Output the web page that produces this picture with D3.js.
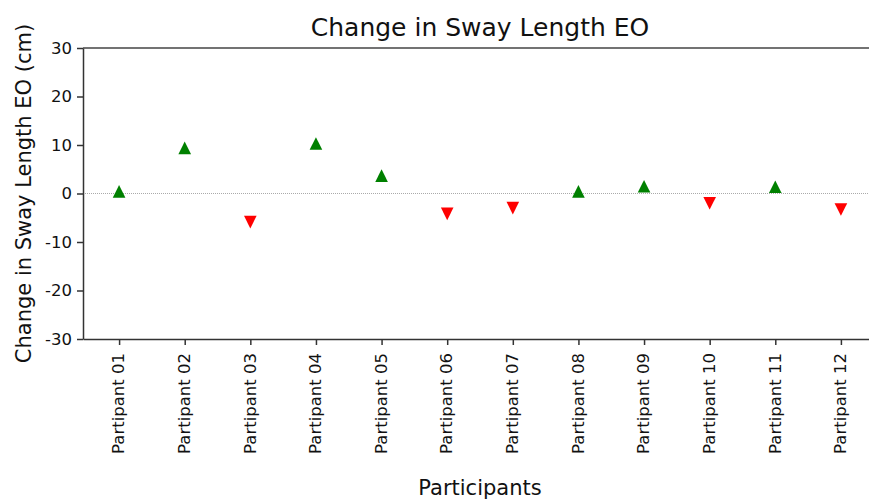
<!DOCTYPE html>
<html>
<head>
<meta charset="utf-8">
<script src="https://cdn.jsdelivr.net/npm/d3@7"></script>
<style>
body { margin: 0; background: #fff; }
text { font-family: "DejaVu Sans", sans-serif; fill: #111; }
</style>
</head>
<body>
<div id="chart"></div>
<script>
var participants = ["Partipant 01", "Partipant 02", "Partipant 03", "Partipant 04",
	"Partipant 05", "Partipant 06", "Partipant 07", "Partipant 08",
	"Partipant 09", "Partipant 10", "Partipant 11", "Partipant 12"];
var change = [0.45, 9.4, -5.9, 10.3, 3.7, -4.2, -3.0, 0.45, 1.5, -2.0, 1.4, -3.3];
var yTicks = [-30, -20, -10, 0, 10, 20, 30];

var width = 869, height = 500;
var plotLeft = 83, plotRight = 877, plotTop = 48, plotBottom = 339;

var svg = d3.select("#chart").append("svg")
	.attr("width", width)
	.attr("height", height);

var x = d3.scalePoint()
	.domain(participants)
	.range([plotLeft, plotRight])
	.padding(0.55);

var y = d3.scaleLinear()
	.domain([-30, 30])
	.range([plotBottom, plotTop]);

// zero line
svg.append("line")
	.attr("x1", plotLeft).attr("x2", plotRight)
	.attr("y1", y(0)).attr("y2", y(0))
	.style("stroke", "#aaa")
	.style("stroke-width", 1)
	.style("stroke-dasharray", "1,1");

// top border
svg.append("line")
	.attr("x1", plotLeft).attr("x2", plotRight)
	.attr("y1", plotTop).attr("y2", plotTop)
	.style("stroke", "#444")
	.style("stroke-width", 1.5);

var yAxis = svg.append("g")
	.attr("transform", "translate(" + plotLeft + ",0)")
	.call(d3.axisLeft(y).tickValues(yTicks).tickFormat(function (d) { return String(d); })
		.tickSize(6).tickPadding(5).tickSizeOuter(0));

var xAxis = svg.append("g")
	.attr("transform", "translate(0," + plotBottom + ")")
	.call(d3.axisBottom(x).tickSize(6).tickPadding(8).tickSizeOuter(0));

[yAxis, xAxis].forEach(function (a) {
	a.select(".domain").style("stroke", "#333").style("stroke-width", 1.5);
	a.selectAll(".tick line").style("stroke", "#333").style("stroke-width", 1.5);
	a.selectAll("text").style("font-family", "DejaVu Sans, sans-serif").style("fill", "#111");
});
yAxis.selectAll("text").style("font-size", "16.5px");
xAxis.selectAll("text")
	.style("font-size", "16.5px")
	.attr("transform", "rotate(-90)")
	.attr("text-anchor", "end")
	.attr("x", -14)
	.attr("y", -1)
	.attr("dy", "0.35em");

// triangle as wide as it is tall, centred on its bounding box
var triangle = {
	draw: function (context, size) {
		var r = Math.sqrt(size) / 2;
		context.moveTo(0, -r);
		context.lineTo(r, r);
		context.lineTo(-r, r);
		context.closePath();
	}
};
var tri = d3.symbol().type(triangle).size(160);

svg.selectAll("path.marker")
	.data(change)
	.enter()
	.append("path")
	.attr("class", "marker")
	.attr("d", tri)
	.attr("transform", function (d, i) {
		return "translate(" + x(participants[i]) + "," + y(d) + ")" + (d < 0 ? " rotate(180)" : "");
	})
	.style("fill", function (d) { return d < 0 ? "#ff0000" : "#008000"; });

svg.append("text")
	.attr("x", (plotLeft + plotRight) / 2)
	.attr("y", 36)
	.attr("text-anchor", "middle")
	.style("font-size", "25px")
	.text("Change in Sway Length EO");

svg.append("text")
	.attr("transform", "translate(31," + ((plotTop + plotBottom) / 2) + ") rotate(-90)")
	.attr("text-anchor", "middle")
	.style("font-size", "21px")
	.text("Change in Sway Length EO (cm)");

svg.append("text")
	.attr("x", (plotLeft + plotRight) / 2)
	.attr("y", 495)
	.attr("text-anchor", "middle")
	.style("font-size", "21px")
	.text("Participants");
</script>
</body>
</html>
